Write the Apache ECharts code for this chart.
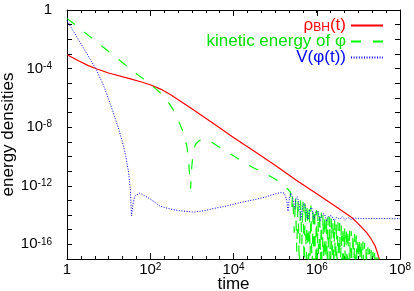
<!DOCTYPE html>
<html><head><meta charset="utf-8">
<script src="https://cdn.jsdelivr.net/npm/echarts@6/dist/echarts.min.js"></script>
<style>html,body{margin:0;padding:0;background:#fff}#c{width:414px;height:291px}</style>
</head><body><div id="c"></div>
<script>
// values are stored as [log10(time), log10(energy density)]
const xTickExponents = [0, 2, 4, 6, 8];
const yLabelExponents = [0, -4, -8, -12, -16];
const seriesNames = ['rho', 'kin', 'V'];
const legendTexts = {rho: '{a|ρ}{sub|BH}{a|(t)}', kin: 'kinetic energy of φ', V: 'V(φ(t))'};

const rhoBH = [
  [0,-3.06],[0.3,-3.5],[0.5,-3.78],[0.72,-4.03],[1,-4.3],[1.5,-4.68],[1.75,-4.88],[2,-5.1],[2.25,-5.4],[2.5,-5.8],
  [3,-6.75],[3.5,-7.72],[4,-8.7],[4.5,-9.65],[5,-10.6],[5.5,-11.6],[6,-12.55],[6.5,-13.5],[6.84,-14.17],
  [7,-14.6],[7.2,-15.2],[7.3,-15.6],[7.4,-16.1],[7.45,-16.5],[7.5,-17.0],[7.55,-17.8]
];

const kinetic = [
  [0,-0.57],[0.5,-1.7],[1,-2.83],[1.55,-4.08],[1.75,-4.53],[2,-5.05],[2.24,-5.65],[2.4,-6.15],[2.55,-6.8],[2.7,-7.7],
  [2.8,-8.4],[2.88,-9.3],[2.92,-10.2],[2.95,-11.5],[2.97,-12.2],[2.99,-11.0],[3.02,-10.0],[3.08,-9.2],[3.16,-8.95],
  [3.26,-8.84],[3.36,-8.85],[3.46,-9.0],[3.6,-9.25],[3.75,-9.52],[4,-9.95],[4.24,-10.4],[4.5,-10.8],[4.72,-11.1],
  [5.04,-11.6],[5.2,-11.95],[5.36,-12.4],
  [5.40,-13.5],[5.42,-12.6],[5.46,-15.2],[5.49,-12.75],[5.52,-16.5],[5.55,-12.85],[5.58,-17.5],[5.61,-12.95],
  [5.64,-16.0],[5.67,-13.05],[5.70,-18.0],[5.72,-13.1],[5.75,-17.0],[5.77,-13.2],[5.80,-18.5],[5.82,-13.3],
  [5.84,-16.8],[5.86,-13.35],[5.89,-18.2],[5.91,-13.45],[5.93,-17.3],[5.95,-13.55],[5.97,-18.5],[5.99,-13.65],
  [6.01,-17.6],[6.03,-13.7],[6.05,-18.4],[6.07,-13.75],[6.09,-17.2],[6.11,-13.85],[6.13,-18.6],[6.15,-13.9],
  [6.17,-17.8],[6.19,-14.0],[6.21,-18.5],[6.23,-14.05],[6.25,-17.4],[6.27,-14.1],[6.29,-18.6],[6.31,-14.15],
  [6.33,-17.9],[6.35,-14.2],[6.37,-18.5],[6.39,-14.3],[6.41,-17.6],[6.43,-14.35],[6.45,-18.6],[6.47,-14.4],
  [6.49,-17.8],[6.51,-14.5],[6.53,-18.5],[6.55,-14.55],[6.57,-17.7],[6.59,-14.65],[6.61,-18.6],[6.63,-14.7],
  [6.65,-17.9],[6.67,-14.8],[6.69,-18.5],[6.71,-14.85],[6.73,-17.8],[6.75,-14.95],[6.77,-18.6],[6.79,-15.05],
  [6.81,-17.9],[6.83,-15.1],[6.85,-18.5],[6.87,-15.2],[6.89,-17.8],[6.91,-15.3],[6.93,-18.6],[6.95,-15.4],
  [6.97,-17.9],[6.99,-15.5],[7.01,-18.5],[7.03,-15.6],[7.05,-17.9],[7.07,-15.7],[7.09,-18.6],[7.11,-15.8],
  [7.13,-18.0],[7.15,-15.9],[7.17,-18.5],[7.19,-16.05],[7.21,-18.0],[7.23,-16.2],[7.25,-18.6],[7.27,-16.3],
  [7.29,-18.0],[7.31,-16.4],[7.33,-18.5],[7.35,-16.5],[7.37,-18.0],[7.39,-16.6],[7.41,-18.5],[7.43,-16.7],
  [7.45,-18.2],[7.47,-16.9],[7.49,-18.5],[7.51,-17.2],[7.53,-18.5]
];

const potential = [
  [0,-0.73],[0.25,-1.9],[0.5,-3.1],[0.71,-4.1],[0.9,-5.3],[1.1,-6.9],[1.25,-8.2],[1.35,-9.2],[1.42,-10.1],
  [1.48,-11.1],[1.52,-12.2],[1.55,-14.06],[1.59,-13.2],[1.63,-12.7],[1.75,-12.5],[2,-12.9],[2.24,-13.4],
  [2.5,-13.6],[2.7,-13.7],[3.04,-13.8],[3.3,-13.7],[3.51,-13.56],[3.8,-13.4],[4.16,-13.15],[4.5,-12.95],
  [4.8,-12.75],[4.88,-12.65],[5.12,-12.47],[5.22,-12.5],[5.28,-13.0],[5.31,-13.75],[5.34,-12.9],[5.38,-12.5],
  [5.43,-12.9],[5.47,-13.6],[5.5,-12.9],[5.53,-12.75],[5.58,-13.3],[5.62,-14.3],[5.66,-13.4],[5.7,-13.2],
  [5.75,-13.8],[5.79,-14.3],[5.83,-13.6],[5.88,-13.5],[5.93,-14.3],[5.98,-13.8],[6.03,-13.75],[6.08,-14.4],
  [6.13,-13.95],[6.18,-13.9],[6.24,-14.4],[6.3,-14.05],[6.36,-14.05],[6.42,-14.4],[6.48,-14.15],[6.55,-14.3],
  [6.62,-14.1],[6.68,-14.35],[6.75,-14.15],[6.82,-14.3],[6.9,-14.2],[7,-14.24],[8,-14.24]
];

const toData = arr => arr.map(p => [Math.pow(10, p[0]), Math.pow(10, p[1])]);
const FONT = 'Liberation Sans';
const expOf = v => Math.round(Math.log10(v));
const supRich = {
  b: {fontSize: 15, fontFamily: FONT, color: '#000'},
  s: {fontSize: 10, fontFamily: FONT, color: '#000', verticalAlign: 'top', padding: [0, 0, 4, 0]}
};
const powLabel = e => e === 0 ? '{b|1}' : '{b|10}{s|' + e + '}';

const chart = echarts.init(document.getElementById('c'), null, {renderer: 'canvas'});
const gridRect = {left: 67, right: 14, top: 10, bottom: 32, containLabel: false, outerBoundsMode: 'none'};
function xAxisDef(pos, grid, interval, tickLen, extra) {
  return Object.assign({
    type: 'log', logBase: 10, min: 1, max: 1e8, interval: interval, gridIndex: grid, position: pos,
    axisLine: {show: grid === 0, lineStyle: {color: '#000', width: 1}},
    axisTick: {show: true, inside: true, length: tickLen, lineStyle: {color: '#000', width: 1}},
    axisLabel: {show: false},
    splitLine: {show: false}
  }, extra || {});
}
function yAxisDef(pos, grid, extra) {
  return Object.assign({
    type: 'log', logBase: 10, min: 1e-17, max: 1, interval: 1, gridIndex: grid, position: pos,
    axisLine: {show: grid === 0, lineStyle: {color: '#000', width: 1}},
    axisTick: {show: grid === 0, inside: true, length: 5, lineStyle: {color: '#000', width: 1}},
    axisLabel: {show: false},
    splitLine: {show: false}
  }, extra || {});
}
chart.setOption({
  animation: false,
  backgroundColor: '#fff',
  grid: [Object.assign({}, gridRect), Object.assign({}, gridRect)],
  xAxis: [
    xAxisDef('bottom', 0, 2, 6, {
      name: 'time', nameLocation: 'middle', nameGap: 17, nameMoveOverlap: false,
      nameTextStyle: {fontFamily: FONT, fontSize: 17, color: '#000'},
      axisLabel: {show: true, margin: 3, formatter: v => xTickExponents.includes(expOf(v)) ? powLabel(expOf(v)) : '', rich: supRich}
    }),
    xAxisDef('top', 0, 2, 6),
    xAxisDef('bottom', 1, 1 / 3, 3),
    xAxisDef('top', 1, 1 / 3, 3)
  ],
  yAxis: [
    yAxisDef('left', 0, {
      name: 'energy densities', nameLocation: 'middle', nameGap: 50, nameMoveOverlap: false,
      nameTextStyle: {fontFamily: FONT, fontSize: 17, color: '#000'},
      axisLabel: {show: true, margin: 15, formatter: v => yLabelExponents.includes(expOf(v)) ? powLabel(expOf(v)) : '', rich: supRich}
    }),
    yAxisDef('right', 0),
    yAxisDef('left', 1),
    yAxisDef('right', 1)
  ],
  legend: {
    orient: 'vertical', right: 25, top: 12, align: 'right',
    itemWidth: 32, itemHeight: 14, itemGap: -1,
    itemStyle: {opacity: 0},
    data: [
      {name: 'rho', textStyle: {color: '#ff0000'}},
      {name: 'kin', textStyle: {color: '#00e000'}},
      {name: 'V', textStyle: {color: '#0000ff'}}
    ],
    formatter: n => legendTexts[n],
    textStyle: {fontFamily: FONT, fontSize: 17, lineHeight: 17, padding: [0, 0, 0, 0],
      rich: {a: {fontFamily: FONT, fontSize: 17, lineHeight: 17}, sub: {fontFamily: FONT, fontSize: 12, lineHeight: 17, verticalAlign: 'bottom'}}}
  },
  series: [
    {name: seriesNames[0], type: 'line', xAxisIndex: 0, yAxisIndex: 0, data: toData(rhoBH), symbol: 'none', showSymbol: false,
      lineStyle: {color: '#ff0000', width: 1.2}, itemStyle: {color: '#ff0000'}},
    {name: seriesNames[1], type: 'line', xAxisIndex: 0, yAxisIndex: 0, data: toData(kinetic), symbol: 'none', showSymbol: false,
      lineStyle: {color: '#00ff00', width: 1.2, type: [10, 12]}, itemStyle: {color: '#00ff00'}},
    {name: seriesNames[2], type: 'line', xAxisIndex: 0, yAxisIndex: 0, data: toData(potential), symbol: 'none', showSymbol: false,
      lineStyle: {color: '#0000ff', width: 1, type: [1, 1.6]}, itemStyle: {color: '#0000ff'}}
  ]
});
</script></body></html>
